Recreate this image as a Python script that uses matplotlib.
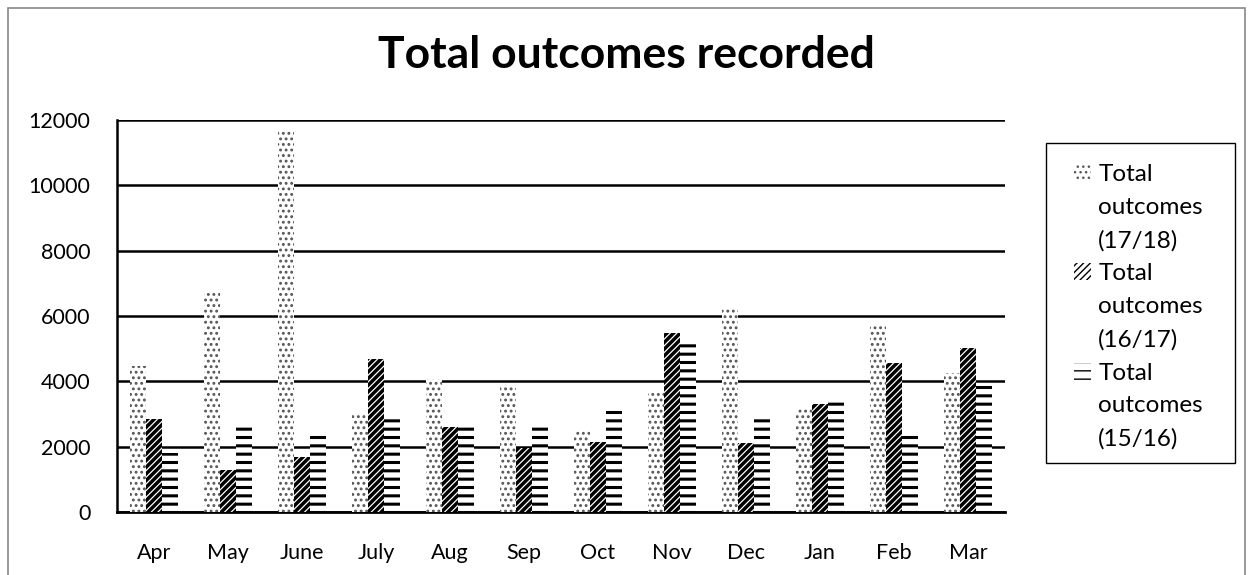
import matplotlib.pyplot as plt
import numpy as np
from matplotlib.patches import Rectangle, Patch

months = ["Apr", "May", "June", "July", "Aug", "Sep", "Oct", "Nov", "Dec", "Jan", "Feb", "Mar"]
outcomes_1718 = [4470, 6710, 11690, 3000, 4080, 3840, 2480, 3680, 6290, 3150, 5770, 4250]
outcomes_1617 = [2840, 1290, 1690, 4690, 2610, 1970, 2140, 5490, 2100, 3310, 4570, 5030]
outcomes_1516 = [1800, 2640, 2430, 2950, 2640, 2640, 3150, 5250, 2950, 3460, 2430, 3880]
series_names = ["Total outcomes (17/18)", "Total outcomes (16/17)", "Total outcomes (15/16)"]

plt.rcParams["font.family"] = ["Lato", "DejaVu Sans"]

fig = plt.figure(figsize=(12.53, 5.75), dpi=100)
ax = fig.add_axes([117 / 1253, 1 - 512 / 575, (1005 - 117) / 1253, (512 - 120) / 575])

x = np.arange(len(months))
w = 0.22
series = [
    (outcomes_1718, "...", "#555555", 1.3),
    (outcomes_1617, "/////", "black", 2.5),
    (outcomes_1516, "--", "black", 2.2),
]
bars = []
for i, (vals, hatch, col, hlw) in enumerate(series):
    with plt.rc_context({"hatch.linewidth": hlw}):
        b = ax.bar(x + (i - 1) * w, vals, w, color="white", edgecolor=col,
                   hatch=hatch, linewidth=0, label=series_names[i], zorder=3)
    bars.append(b)

ax.set_xlim(-0.5, len(months) - 0.5)
ax.set_ylim(0, 12000)
ax.set_yticks(range(0, 12001, 2000))
ax.set_xticks(x)
ax.set_xticklabels(months)
ax.yaxis.grid(True, color="black", linewidth=1.8, zorder=0)
ax.set_axisbelow(True)
for s in ["top", "right"]:
    ax.spines[s].set_visible(False)
ax.spines["left"].set_linewidth(1.8)
ax.spines["bottom"].set_linewidth(2.0)
ax.tick_params(axis="both", length=0, labelsize=15.5)
ax.tick_params(axis="x", pad=22)
ax.tick_params(axis="y", pad=19)

fig.text(0.5, 1 - 55 / 575, "Total outcomes recorded", ha="center", va="center",
         fontsize=32, fontweight="bold")

# legend: one row per text line, handle only on the first line of each entry
blank = Patch(facecolor="none", edgecolor="none")
handles, labels = [], []
for b, name in zip(bars, series_names):
    handles += [b, blank, blank]
    labels += name.split(" ")
leg = fig.legend(handles=handles, labels=labels, loc="upper left",
                 bbox_to_anchor=(1074 / 1253, 1 - 164 / 575), fontsize=17.5,
                 frameon=False, handlelength=0.7, handleheight=0.7,
                 handletextpad=0.3, labelspacing=0.49, borderpad=0, borderaxespad=0)
fig.patches.append(Rectangle((1046 / 1253, 1 - 463 / 575), 189 / 1253, 320 / 575,
                             transform=fig.transFigure, fill=False,
                             edgecolor="black", linewidth=1.0))

fig.patches.append(Rectangle((8 / 1253, -0.01), 1 - 16 / 1253, 1 - 8 / 575 + 0.01,
                             transform=fig.transFigure, fill=False,
                             edgecolor="#888888", linewidth=1.2))

fig.savefig("out.png", dpi=100)
